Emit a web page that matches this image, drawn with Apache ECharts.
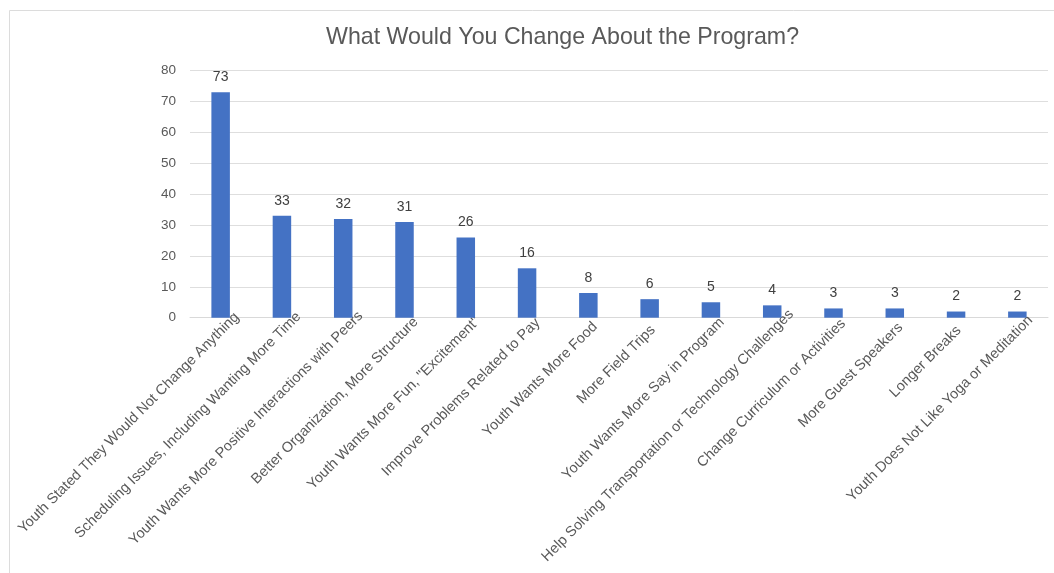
<!DOCTYPE html>
<html>
<head>
<meta charset="utf-8">
<title>What Would You Change About the Program?</title>
<script src="https://cdn.jsdelivr.net/npm/echarts@6/dist/echarts.min.js"></script>
<style>
  html, body { margin: 0; padding: 0; background: #ffffff; }
  #chart { width: 1054px; height: 573px; }
</style>
</head>
<body>
<div id="chart"></div>
<script>
// Survey responses: what youth would change about the program
const categories = [
  'Youth Stated They Would Not Change Anything',
  'Scheduling Issues, Including Wanting More Time',
  'Youth Wants More Positive Interactions with Peers',
  'Better Organization, More Structure',
  'Youth Wants More Fun, "Excitement"',
  'Improve Problems Related to Pay',
  'Youth Wants More Food',
  'More Field Trips',
  'Youth Wants More Say in Program',
  'Help Solving Transportation or Technology Challenges',
  'Change Curriculum or Activities',
  'More Guest Speakers',
  'Longer Breaks',
  'Youth Does Not Like Yoga or Meditation'
];
const responses = [73, 33, 32, 31, 26, 16, 8, 6, 5, 4, 3, 3, 2, 2];
const yMin = 0;
const yMax = 80;
const yStep = 10;

const FONT = '"Liberation Sans", Arial, Helvetica, sans-serif';
const LABEL_SIZE = 14.5;

// Longer category names slide a little further along their slanted baseline
const ctx = document.createElement('canvas').getContext('2d');
ctx.font = LABEL_SIZE + 'px ' + FONT;
const categoryItems = categories.map(name => {
  const w = ctx.measureText(name).width;
  return { value: name, textStyle: { padding: [0, -(0.09 * w - 4.5), 0, 0] } };
});

const chart = echarts.init(document.getElementById('chart'), null, { renderer: 'canvas' });

chart.setOption({
  backgroundColor: '#ffffff',
  animation: false,
  textStyle: { fontFamily: FONT },
  graphic: [{
    type: 'polyline',
    silent: true,
    shape: { points: [[9.5, 600], [9.5, 10.5], [1100, 10.5]] },
    style: { stroke: '#dcdcdc', lineWidth: 1, fill: null }
  }],
  title: {
    text: 'What Would You Change About the Program?',
    left: 321,
    top: 21,
    textStyle: { fontFamily: FONT, fontSize: 23.2, fontWeight: 'normal', color: '#595959' }
  },
  grid: {
    left: 190,
    right: 6,
    top: 70.7,
    bottom: 255.3,
    containLabel: false
  },
  xAxis: {
    type: 'category',
    data: categoryItems,
    boundaryGap: true,
    axisTick: { show: false },
    axisLine: { show: true, lineStyle: { color: '#d9d9d9', width: 1 } },
    axisLabel: {
      interval: 0,
      rotate: 45,
      align: 'right',
      verticalAlign: 'middle',
      margin: 13.5,
      fontFamily: FONT,
      fontSize: LABEL_SIZE,
      color: '#595959',
      hideOverlap: false
    },
    splitLine: { show: false }
  },
  yAxis: {
    type: 'value',
    min: yMin,
    max: yMax,
    interval: yStep,
    axisLine: { show: false },
    axisTick: { show: false },
    axisLabel: { margin: 14, fontFamily: FONT, fontSize: 13.5, color: '#595959' },
    splitLine: { lineStyle: { color: '#dedede', width: 1 } }
  },
  series: [{
    type: 'bar',
    data: responses,
    barWidth: 18.5,
    itemStyle: { color: '#4472c4' },
    label: {
      show: true,
      position: 'top',
      distance: 8,
      fontFamily: FONT,
      fontSize: 14,
      color: '#404040'
    }
  }]
});
</script>
</body>
</html>
